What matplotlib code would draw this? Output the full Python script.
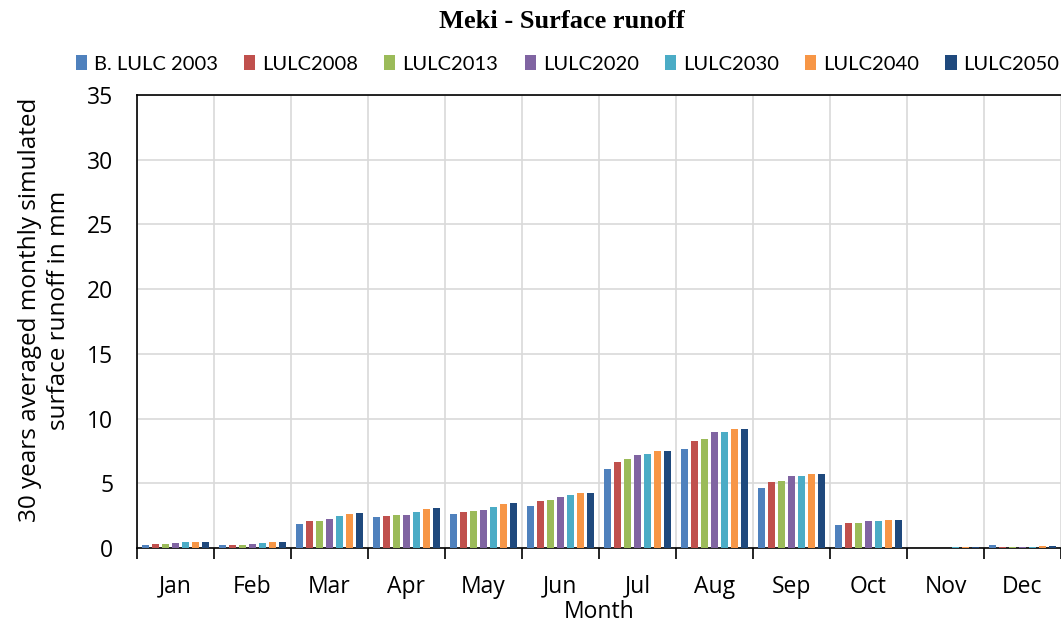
import numpy as np
import matplotlib
matplotlib.use('Agg')
import matplotlib.pyplot as plt

# === Data ===
months = ['Jan', 'Feb', 'Mar', 'Apr', 'May', 'Jun', 'Jul', 'Aug', 'Sep', 'Oct', 'Nov', 'Dec']
series_names = ['B. LULC 2003', 'LULC2008', 'LULC2013', 'LULC2020', 'LULC2030', 'LULC2040', 'LULC2050']

lulc_2003 = [0.28, 0.25, 1.87, 2.41, 2.67, 3.26, 6.08, 7.62, 4.64, 1.79, 0.02, 0.26]
lulc_2008 = [0.33, 0.27, 2.08, 2.51, 2.82, 3.67, 6.69, 8.28, 5.08, 1.97, 0.02, 0.08]
lulc_2013 = [0.33, 0.27, 2.10, 2.54, 2.87, 3.74, 6.85, 8.46, 5.21, 1.97, 0.03, 0.08]
lulc_2020 = [0.38, 0.33, 2.28, 2.59, 2.92, 3.95, 7.21, 8.95, 5.54, 2.13, 0.03, 0.09]
lulc_2030 = [0.44, 0.38, 2.46, 2.79, 3.21, 4.08, 7.28, 8.95, 5.54, 2.13, 0.05, 0.10]
lulc_2040 = [0.49, 0.46, 2.64, 3.03, 3.44, 4.26, 7.51, 9.21, 5.74, 2.21, 0.05, 0.15]
lulc_2050 = [0.49, 0.48, 2.69, 3.10, 3.51, 4.26, 7.51, 9.18, 5.74, 2.21, 0.07, 0.15]

all_series = [lulc_2003, lulc_2008, lulc_2013, lulc_2020, lulc_2030, lulc_2040, lulc_2050]
colors = ['#4F81BD', '#C0504D', '#9BBB59', '#8064A2', '#4BACC6', '#F79646', '#1F497D']

plt.rcParams['font.family'] = ['Open Sans', 'DejaVu Sans']

# === Plot ===
fig = plt.figure(figsize=(10.61, 6.25), dpi=100)
ax = fig.add_axes([0.129, 0.123, 0.871, 0.725])

x = np.arange(len(months))
slot = 0.13
bar_w = 0.092
for i, (name, vals) in enumerate(zip(series_names, all_series)):
    ax.bar(x + (i - 3) * slot, vals, width=bar_w, color=colors[i], label=name, zorder=3)

ax.set_xlim(-0.5, len(months) - 0.5)
ax.set_ylim(0, 35)
ax.set_yticks(range(0, 36, 5))
ax.set_xticks(x)
ax.set_xticklabels(months)
ax.set_xticks(np.arange(-0.5, len(months), 1), minor=True)

ax.tick_params(axis='x', which='major', length=0, labelsize=16.5, pad=19)
ax.tick_params(axis='x', which='minor', length=8, width=1.2, direction='out', color='black')
ax.tick_params(axis='y', length=0, labelsize=16.5, pad=17)

ax.grid(which='minor', axis='x', color='#D9D9D9', linewidth=1.2, zorder=0)
ax.grid(which='major', axis='y', color='#D9D9D9', linewidth=1.2, zorder=0)
ax.set_axisbelow(True)

for side in ['left', 'bottom', 'top']:
    ax.spines[side].set_color('black')
    ax.spines[side].set_linewidth(1.2)
ax.spines['right'].set_visible(False)

ax.set_xlabel('Month', fontsize=16.5, labelpad=1)
ax.set_ylabel('30 years averaged monthly simulated\nsurface runoff in mm', fontsize=17.5,
              linespacing=1.25, va='center')
ax.yaxis.set_label_coords(-0.1, 0.525)

fig.text(0.53, 0.965, 'Meki - Surface runoff', ha='center', va='center',
         fontsize=19, fontweight='bold', family='Liberation Serif')

fig.legend(loc='center', bbox_to_anchor=(0.535, 0.898), ncol=7, frameon=False,
           prop={'family': 'Lato', 'size': 14.5}, handlelength=0.55, handleheight=0.8,
           handletextpad=0.35, columnspacing=1.3)

plt.savefig('out.png', dpi=100)
